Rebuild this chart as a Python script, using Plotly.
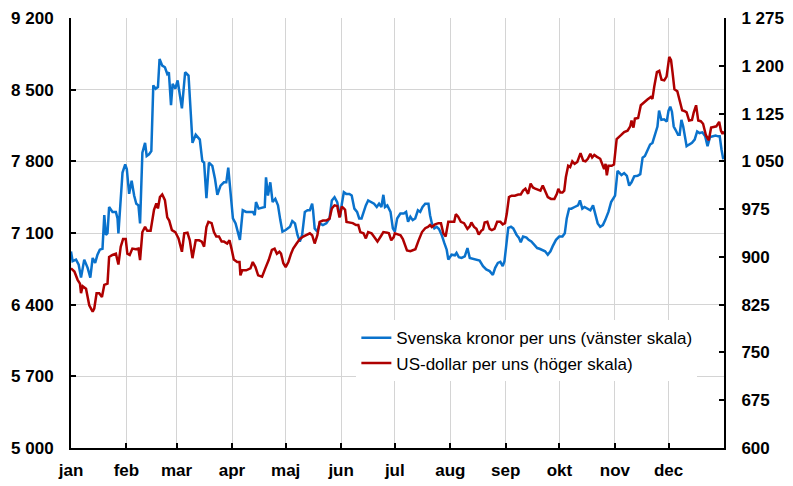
import pandas as pd
import plotly.graph_objects as go

# Guldpris 2009, dagar räknade från 1 januari
sek_days = [
    0.0, 0.9, 2.8, 4.3, 5.6, 7.4, 9.3, 10.8, 12.1, 13.5, 14.8, 16.1, 17.6, 18.6, 19.5, 20.4,
    21.3, 23.2, 25.1, 26.0, 26.5, 27.5, 28.8, 30.3, 31.2, 32.5, 33.9, 35.3, 36.5, 37.7, 38.6,
    39.9, 41.4, 42.3, 43.6, 44.9, 46.0, 47.3, 48.6, 49.5, 51.0, 52.5, 53.8, 54.7,
    55.9, 56.8, 58.3, 59.6, 60.5, 62.0, 63.8, 65.7, 67.0, 67.9, 69.7, 72.0, 73.4, 74.4, 75.7,
    77.1, 79.0, 80.5, 81.8, 83.6, 85.5, 86.8, 87.9, 88.8, 90.5, 92.0, 93.4, 94.4, 96.0, 97.9,
    99.7, 101.6, 102.7, 103.4, 104.9, 106.8, 108.3, 109.0, 110.1, 111.4, 112.7, 114.2, 115.7,
    117.0, 118.2, 120.0, 122.4, 123.7, 125.2, 126.6, 127.9, 129.2, 130.7, 132.2, 133.5, 134.8,
    135.3, 136.2, 137.7, 139.0, 140.8, 142.7, 144.5, 145.8, 147.3, 148.8, 149.7, 150.4, 151.4,
    152.5, 153.8, 155.6, 156.9, 158.4, 159.9, 161.1, 162.4, 163.5, 164.8, 166.1, 167.6, 169.4,
    170.9, 172.2, 173.5, 174.6, 175.5, 176.8,
    178.6, 179.9, 181.0, 182.3, 184.1, 186.0, 187.3, 188.4, 189.7, 191.0, 192.4, 193.9, 195.2,
    196.5, 198.0, 199.8, 200.7, 201.7, 203.1, 204.4, 205.7, 207.2, 208.7, 210.0, 210.9, 212.7,
    214.6, 215.5, 216.8, 218.3, 220.1, 221.6, 222.9, 224.7, 226.6, 228.4, 230.3, 232.1, 234.0,
    235.8, 237.1, 238.6, 240.0, 241.3, 242.3,
    243.3, 244.4, 245.9, 247.2, 249.1, 250.3, 251.4, 252.7, 254.6, 255.8, 257.3, 259.1, 260.6,
    261.9, 263.7, 265.0, 266.5, 268.0, 269.2, 271.1, 272.9, 274.7, 276.0, 277.1, 278.4, 279.7,
    281.5, 283.4, 284.5, 285.8, 287.0, 288.5, 290.3, 291.8, 293.1, 294.4, 295.8, 297.3, 298.6,
    300.4, 301.9, 303.2, 304.1,
    305.5, 306.4, 307.7, 309.2, 310.7, 312.0, 313.3, 314.8, 316.7, 318.2, 319.5, 320.8, 322.2,
    323.7, 325.0, 326.3, 327.8, 328.7, 330.0, 331.5, 333.0, 334.0, 335.0, 335.9, 336.9, 337.9,
    339.3, 340.2, 341.2, 342.2, 343.2, 344.1, 345.5, 347.1, 348.6, 350.0, 351.3, 352.9, 354.5,
    355.8, 357.2, 358.8, 360.3, 361.7, 362.6, 363.6, 364.6,
]
sek_values = [
    6920, 6825, 6840, 6790, 6664, 6840, 6760, 6664, 6856, 6808, 6888, 6937, 6946, 7274, 7081, 7097,
    7354, 7306, 7306, 7242, 7097, 7402, 7691, 7771, 7723, 7482, 7611, 7466, 7386, 7370, 7194,
    7884, 7980, 7852, 7868, 7900, 8542, 8510, 8526, 8799, 8735, 8719, 8654, 8670,
    8349, 8558, 8510, 8590, 8494, 8317, 8670, 8638, 8253, 7980, 8060, 8012, 7803, 7787, 7441,
    7787, 7755, 7627, 7473, 7563, 7595, 7595, 7739, 7579, 7242, 7194, 7113, 7033, 7322, 7306,
    7306, 7306, 7274, 7402, 7338, 7344, 7354, 7643, 7466, 7595, 7402, 7434, 7370,
    7226, 7113, 7129, 7161, 7216, 7194, 7081, 7017, 7081, 7306, 7322, 7322, 7386,
    7322, 7145, 7113, 7194, 7177, 7194, 7242, 7418, 7450, 7402, 7338, 7258, 7386,
    7498, 7482, 7482, 7466, 7338, 7306, 7242, 7242, 7306, 7370, 7418, 7402, 7386,
    7354, 7386, 7354, 7473, 7354, 7370,
    7306, 7145, 7113, 7242, 7290, 7290, 7306, 7210, 7258, 7226, 7242, 7322, 7306,
    7354, 7386, 7386, 7274, 7194, 7145, 7161, 7139, 7081, 7001, 6937, 6840, 6888,
    6882, 6905, 6863, 6856, 6872, 6953, 6856, 6850, 6840, 6831, 6776, 6744, 6728,
    6690, 6760, 6808, 6818, 6776, 6825,
    6990, 7150, 7161, 7145, 7081, 7055, 7010, 7065, 7055, 7033, 7017, 6985, 6953,
    6946, 6927, 6921, 6888, 6921, 6969, 7033, 7065, 7065, 7097, 7242, 7338, 7338,
    7354, 7370, 7418, 7338, 7354, 7338, 7322, 7370, 7290, 7194, 7161, 7177, 7226,
    7306, 7402, 7434, 7466,
    7707, 7691, 7666, 7685, 7659, 7563, 7595, 7653, 7659, 7675, 7836, 7852, 7916,
    7964, 7980, 8060, 8140, 8295, 8205, 8211, 8189, 8295, 8333, 8285, 8140, 8108,
    8060, 8060, 8205, 8140, 8012, 7948, 7964, 7980, 8012, 8092, 8076, 8083, 8044,
    7948, 8038, 8044, 8051, 8044, 8044, 7916, 7820,
]

usd_days = [
    0.0, 1.9, 3.7, 5.0, 5.6, 6.5, 8.4, 10.2, 12.1, 13.0, 14.3, 15.8, 17.3, 18.6, 20.4, 21.3,
    23.2, 25.1, 26.5, 27.8, 29.1, 30.6, 31.5, 32.8, 34.3, 36.2, 37.7, 38.6, 39.9, 41.4, 42.6,
    44.5, 46.4, 47.7, 48.6, 49.7, 51.0, 52.5, 53.8,
    54.9, 56.4, 58.3, 60.1, 62.0, 63.3, 65.1, 66.4, 67.9, 69.7, 71.6, 73.1, 74.4, 75.7, 76.8,
    78.6, 79.9, 81.2, 82.7, 84.2, 85.5, 87.3, 88.6, 89.7, 91.0, 92.9, 94.2, 94.7, 95.7, 97.9,
    100.3, 101.6, 103.1, 104.6, 106.8, 108.6, 110.5, 112.3, 113.8, 115.1,
    116.5, 117.4, 118.7, 120.0, 121.5, 123.0, 124.2, 126.1, 127.9, 129.8, 131.6, 133.5, 134.8,
    136.2, 137.7, 139.0, 140.8, 142.7, 144.5, 145.8, 147.3, 148.8, 150.1, 151.4, 152.5, 153.2,
    154.0, 155.6, 157.5, 159.3, 160.6, 161.7, 163.5, 164.8, 166.1, 168.0, 169.8, 171.3, 173.1,
    174.6, 176.8,
    177.7, 179.0, 180.4, 181.0, 182.5, 184.2, 185.5, 186.9, 187.8, 189.7, 191.0, 192.5, 194.3,
    196.2, 198.0, 199.5, 200.7, 201.7, 203.5, 205.4, 206.8, 208.1, 209.4, 210.9, 212.7, 214.2,
    215.1, 216.4, 217.9, 219.7, 221.6, 222.9, 223.8, 225.3, 226.6, 227.9, 229.3, 230.3, 231.2,
    232.7, 234.0, 235.2, 236.7, 238.2, 240.0, 241.3, 242.6,
    243.6, 244.8, 246.3, 248.1, 250.0, 251.4, 252.7, 254.0, 255.5, 256.9, 258.2, 259.5, 261.0,
    262.4, 263.7, 265.0, 266.5, 268.3, 270.2, 271.6, 272.4, 273.5, 274.7, 275.7, 276.6, 277.9,
    279.0, 280.2, 281.5, 283.0, 284.8, 286.3, 287.6, 288.9, 290.3, 291.3, 292.5, 294.0, 295.8,
    297.3, 298.0, 298.8, 299.5, 300.4, 302.2, 303.5,
    305.0, 307.4, 309.2, 311.1, 312.6, 313.3, 314.4, 315.2, 317.0, 318.5, 320.4, 322.2, 324.1,
    325.0, 326.0, 327.5, 328.8, 330.1, 331.6, 332.9, 334.4, 335.4, 336.3, 337.3, 338.9, 340.2,
    341.6, 342.8, 344.1, 345.5, 347.1, 348.1, 349.4, 350.6, 352.0, 353.3, 354.9, 356.5, 357.8,
    359.2, 360.7, 362.3, 363.3, 364.2, 365.0,
]
usd_values = [
    882, 877, 864, 858, 843, 854, 850, 824, 814, 819, 843, 843, 837, 856, 858, 900,
    903, 905, 888, 916, 928, 928, 905, 903, 913, 912, 913, 895, 939, 947, 941,
    941, 974, 984, 976, 994, 998, 989, 962,
    957, 942, 939, 929, 908, 937, 938, 926, 898, 926, 926, 924, 916, 947, 955,
    953, 939, 932, 932, 924, 924, 921, 926, 913, 896, 892, 892, 871, 879, 879,
    882, 892, 884, 871, 869, 882, 895, 911, 913, 905,
    908, 905, 890, 884, 892, 905, 913, 921, 928, 932, 934, 937, 934,
    921, 934, 955, 957, 957, 960, 976, 981, 980, 962, 979, 976, 974,
    955, 954, 953, 950, 950, 939, 937, 929, 939, 937, 929, 924, 932,
    939, 938,
    937, 926, 931, 937, 936, 934, 928, 918, 910, 909, 910, 912, 926,
    939, 945, 947, 950, 947, 951, 953, 953, 937, 932, 955, 955, 955,
    967, 963, 955, 953, 944, 948, 954, 947, 944, 935, 941, 943, 954,
    955, 944, 942, 944, 955, 955, 951, 953,
    968, 994, 996, 996, 998, 998, 1004, 1007, 999, 1015, 1009, 1007, 1005,
    1004, 1012, 1004, 994, 991, 991, 999, 1007, 1001, 1001, 1004, 1025, 1043,
    1041, 1050, 1046, 1049, 1063, 1051, 1050, 1054, 1062, 1056, 1060, 1057, 1054,
    1043, 1038, 1046, 1028, 1043, 1043, 1045,
    1085, 1091, 1096, 1098, 1105, 1114, 1103, 1117, 1118, 1138, 1143, 1147, 1151,
    1148, 1167, 1190, 1192, 1178, 1177, 1183, 1214, 1209, 1188, 1163, 1160, 1143,
    1130, 1129, 1127, 1114, 1115, 1127, 1138, 1114, 1113, 1109, 1091, 1083, 1103,
    1104, 1105, 1112, 1098, 1093, 1097,
]

month_starts = [
    "2009-01-01", "2009-02-01", "2009-03-01", "2009-04-01", "2009-05-01", "2009-06-01",
    "2009-07-01", "2009-08-01", "2009-09-01", "2009-10-01", "2009-11-01", "2009-12-01",
]
month_labels = ["jan", "feb", "mar", "apr", "maj", "jun", "jul", "aug", "sep", "okt", "nov", "dec"]

left_ticks = [5000, 5700, 6400, 7100, 7800, 8500, 9200]
left_labels = ["5 000", "5 700", "6 400", "7 100", "7 800", "8 500", "9 200"]
right_ticks = [600, 675, 750, 825, 900, 975, 1050, 1125, 1200, 1275]
right_labels = ["600", "675", "750", "825", "900", "975", "1 050", "1 125", "1 200", "1 275"]

base = pd.Timestamp("2009-01-01")
sek_dates = base + pd.to_timedelta(sek_days, unit="D")
usd_dates = base + pd.to_timedelta(usd_days, unit="D")

FONT = "Arial, Liberation Sans, sans-serif"
tick_font = dict(family=FONT, size=17, color="black", weight="bold")

axis_common = dict(
    ticks="inside",
    ticklen=5,
    tickwidth=1.5,
    tickcolor="black",
    showline=True,
    linecolor="black",
    linewidth=2,
    tickfont=tick_font,
    zeroline=False,
    automargin=False,
)

fig = go.Figure()
fig.add_trace(go.Scatter(
    x=sek_dates, y=sek_values, mode="lines", name="Svenska kronor per uns (vänster skala)",
    line=dict(color="#0A72CC", width=2.5),
))
fig.add_trace(go.Scatter(
    x=usd_dates, y=usd_values, mode="lines", name="US-dollar per uns (höger skala)",
    line=dict(color="#AE0000", width=2.5), yaxis="y2",
))

# the page body adds an 8 px offset, so the figure is 8 px smaller than the window
fig.update_layout(
    width=785,
    height=478,
    margin=dict(l=63, r=69, t=10, b=38),
    plot_bgcolor="white",
    paper_bgcolor="white",
    font=dict(family=FONT, size=17, color="black"),
    xaxis=dict(
        type="date",
        range=["2009-01-01", "2010-01-01"],
        tickvals=month_starts,
        ticktext=month_labels,
        showgrid=True,
        gridcolor="#d4d4d4",
        gridwidth=1,
        ticklabelstandoff=6,
        **axis_common,
    ),
    yaxis=dict(
        range=[5000, 9200],
        tickvals=left_ticks,
        ticktext=left_labels,
        showgrid=True,
        gridcolor="#d4d4d4",
        gridwidth=1,
        ticklabelstandoff=12,
        **axis_common,
    ),
    yaxis2=dict(
        range=[600, 1275],
        overlaying="y",
        side="right",
        tickvals=right_ticks,
        ticktext=right_labels,
        showgrid=False,
        ticklabelstandoff=12,
        **axis_common,
    ),
    legend=dict(
        x=0.437,
        y=0.297,
        xanchor="left",
        yanchor="top",
        bgcolor="white",
        font=dict(family=FONT, size=17, color="black"),
        itemwidth=30,
        tracegroupgap=4,
    ),
    showlegend=True,
)

fig.write_html("out.html")
